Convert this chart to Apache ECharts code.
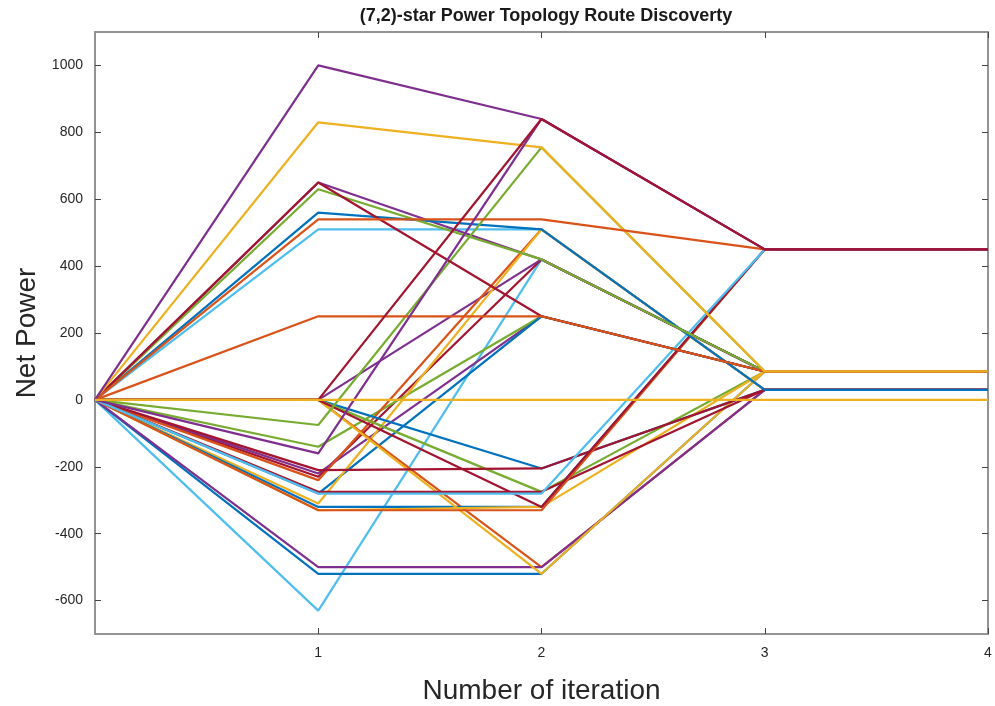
<!DOCTYPE html>
<html><head><meta charset="utf-8">
<script src="https://cdn.jsdelivr.net/npm/echarts@6/dist/echarts.min.js"></script>
<style>html,body{margin:0;padding:0;background:#fff}#c{width:995px;height:706px}</style>
</head><body><div id="c"></div>
<script>
const iterations = [0, 1, 2, 3, 4];
const xTickLabels = [1, 2, 3, 4];
const yTickLabels = [-600, -400, -200, 0, 200, 400, 600, 800, 1000];
const palette = {blue:'#0072BD', orange:'#D95319', yellow:'#EDB120', purple:'#7E2F8E', green:'#77AC30', lightblue:'#4DBEEE', darkred:'#A2142F'};

// Net power of each route at iterations 0..4 (drawing order: first = bottom)
const r01 = [0, 510, 510, 30, 30];
const r02 = [0, -630, 420, 85, 85];
const r03 = [0, 650, 420, 85, 85];
const r04 = [0, -230, 420, 85, 85];
const r05 = [0, 0, 420, 85, 85];
const r06 = [0, -220, 250, 85, 85];
const r07 = [0, -140, 250, 85, 85];
const r08 = [0, -280, 250, 85, 85];
const r09 = [0, -240, 510, 30, 30];
const r10 = [0, -310, 510, 30, 30];
const r11 = [0, 0, -205, 30, 30];
const r12 = [0, 0, -275, 85, 85];
const r13 = [0, 0, -500, 30, 30];
const r14 = [0, -520, -520, 85, 85];
const r15 = [0, -320, -320, 450, 450];
const r16 = [0, -500, -500, 30, 30];
const r17 = [0, 0, -520, 85, 85];
const r18 = [0, -330, -320, 85, 85];
const r19 = [0, -210, -205, 30, 30];
const r20 = [0, -275, -275, 30, 30];
const r21 = [0, -330, -330, 450, 450];
const r22 = [0, 0, -320, 450, 450];
const r23 = [0, -280, -280, 450, 450];
const r24 = [0, 560, 510, 30, 30];
const r25 = [0, -75, 755, 85, 85];
const r26 = [0, 630, 420, 85, 85];
const r27 = [0, 650, 250, 85, 85];
const r28 = [0, 250, 250, 85, 85];
const r29 = [0, 830, 755, 85, 85];
const r30 = [0, 540, 540, 450, 450];
const r31 = [0, -160, 840, 450, 450];
const r32 = [0, 1000, 840, 450, 450];
const r33 = [0, 0, 840, 450, 450];
const r34 = [0, 0, 0, 0, 0];
const routes = [r01,r02,r03,r04,r05,r06,r07,r08,r09,r10,r11,r12,r13,r14,r15,r16,r17,r18,r19,r20,r21,r22,r23,r24,r25,r26,r27,r28,r29,r30,r31,r32,r33,r34];
const routeColors = [
 'lightblue','lightblue','purple','darkred','purple','purple','green','blue','orange','yellow',
 'blue','green','orange','blue','blue','purple','yellow','yellow','darkred','darkred',
 'orange','darkred','lightblue','blue','green','green','darkred','orange','yellow','orange',
 'purple','purple','darkred','yellow'
];

const series = routes.map((r, i) => ({
  type: 'line', data: r.map((v, j) => [iterations[j], v]), symbol: 'none',
  lineStyle: {color: palette[routeColors[i]], width: 2.2}, itemStyle: {color: palette[routeColors[i]]},
  animation: false, silent: true
}));

const chart = echarts.init(document.getElementById('c'), null, {renderer: 'canvas'});
const axisCol = '#8c8c8c';
const tickCol = '#444';
const labelCol = '#262626';
const font = 'Liberation Sans';
chart.setOption({
  backgroundColor: '#fff',
  title: {text: '(7,2)-star Power Topology Route Discoverty', left: 541, top: 2, textAlign: 'center',
    textStyle: {fontFamily: font, fontWeight: 'bold', fontSize: 18, color: '#1a1a1a'}},
  grid: {left: 95, right: 7, top: 32, bottom: 72, show: true, borderColor: axisCol, borderWidth: 1.5,
    containLabel: false, outerBoundsMode: 'none'},
  xAxis: [{
    type: 'value', min: 0, max: 4, position: 'bottom',
    name: 'Number of iteration', nameLocation: 'middle', nameGap: 43,
    nameTextStyle: {fontFamily: font, fontSize: 28, color: labelCol},
    axisLine: {show: true, onZero: false, lineStyle: {color: axisCol, width: 1.5}},
    axisTick: {show: true, inside: true, length: 6, customValues: xTickLabels, lineStyle: {color: tickCol}},
    axisLabel: {customValues: xTickLabels, fontFamily: font, fontSize: 14, color: labelCol, margin: 12, formatter: v => String(v)},
    splitLine: {show: false}
  }, {
    type: 'value', min: 0, max: 4, position: 'top',
    axisLine: {show: true, onZero: false, lineStyle: {color: axisCol, width: 1.5}},
    axisTick: {show: true, inside: true, length: 6, customValues: xTickLabels, lineStyle: {color: tickCol}},
    axisLabel: {show: false}, splitLine: {show: false}
  }],
  yAxis: [{
    type: 'value', min: -700, max: 1100, position: 'left',
    name: 'Net Power', nameLocation: 'middle', nameGap: 52,
    nameTextStyle: {fontFamily: font, fontSize: 28, color: labelCol},
    axisLine: {show: true, onZero: false, lineStyle: {color: axisCol, width: 1.5}},
    axisTick: {show: true, inside: true, length: 6, customValues: yTickLabels, lineStyle: {color: tickCol}},
    axisLabel: {customValues: yTickLabels, fontFamily: font, fontSize: 14, color: labelCol, margin: 12, formatter: v => String(v)},
    splitLine: {show: false}
  }, {
    type: 'value', min: -700, max: 1100, position: 'right',
    axisLine: {show: true, onZero: false, lineStyle: {color: axisCol, width: 1.5}},
    axisTick: {show: true, inside: true, length: 6, customValues: yTickLabels, lineStyle: {color: tickCol}},
    axisLabel: {show: false}, splitLine: {show: false}
  }],
  series: series
});
</script></body></html>
